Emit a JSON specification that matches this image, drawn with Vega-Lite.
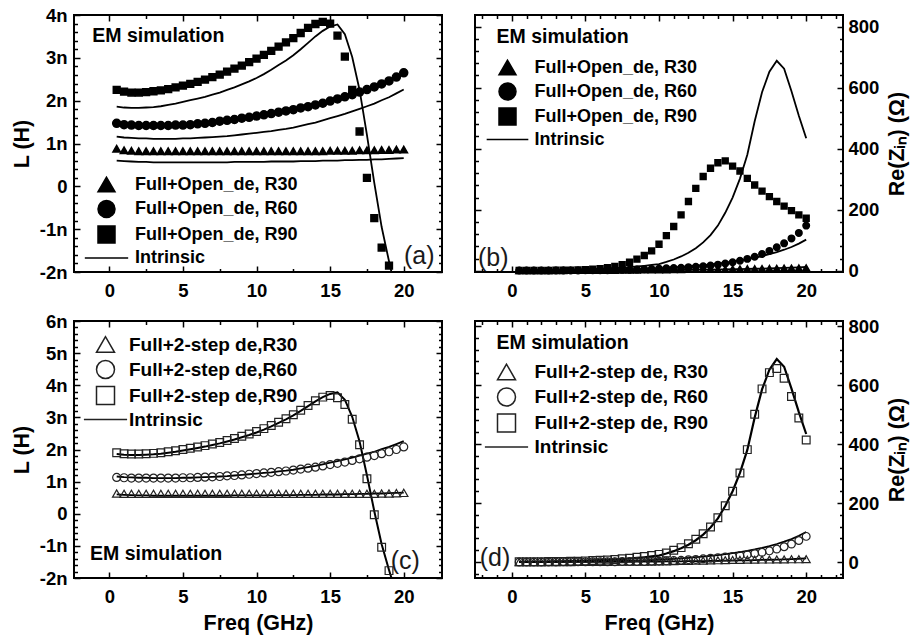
{
  "$schema": "https://vega.github.io/schema/vega-lite/v6.json",
  "background": "white",
  "padding": {"left": 10, "top": 5, "right": 2, "bottom": 2},
  "config": {
    "font": "Liberation Sans",
    "view": {"stroke": "black", "strokeWidth": 2},
    "axis": {"grid": false, "domain": false, "labelFont": "Liberation Sans", "labelFontWeight": "bold", "labelFontSize": 18.5, "labelColor": "black", "labelFlush": false, "labelOverlap": false, "labelBound": false, "titleFont": "Liberation Sans", "titleFontWeight": "bold", "titleFontSize": 21.5, "titleColor": "black", "tickColor": "black", "tickWidth": 1.5},
    "legend": {"labelFont": "Liberation Sans", "labelFontWeight": "bold", "labelColor": "black", "padding": 0, "labelLimit": 400},
    "text": {"font": "Liberation Sans"}
  },
  "datasets": {
    "L30": [{"f":0.5,"v":0.60},{"f":1,"v":0.59},{"f":1.5,"v":0.58},{"f":2,"v":0.57},{"f":2.5,"v":0.57},{"f":3,"v":0.56},{"f":3.5,"v":0.56},{"f":4,"v":0.56},{"f":4.5,"v":0.56},{"f":5,"v":0.56},{"f":5.5,"v":0.56},{"f":6,"v":0.56},{"f":6.5,"v":0.56},{"f":7,"v":0.56},{"f":7.5,"v":0.56},{"f":8,"v":0.56},{"f":8.5,"v":0.57},{"f":9,"v":0.57},{"f":9.5,"v":0.57},{"f":10,"v":0.57},{"f":10.5,"v":0.57},{"f":11,"v":0.58},{"f":11.5,"v":0.58},{"f":12,"v":0.58},{"f":12.5,"v":0.58},{"f":13,"v":0.59},{"f":13.5,"v":0.59},{"f":14,"v":0.59},{"f":14.5,"v":0.60},{"f":15,"v":0.60},{"f":15.5,"v":0.60},{"f":16,"v":0.61},{"f":16.5,"v":0.61},{"f":17,"v":0.62},{"f":17.5,"v":0.62},{"f":18,"v":0.63},{"f":18.5,"v":0.63},{"f":19,"v":0.64},{"f":19.5,"v":0.65},{"f":20,"v":0.66}],
    "L60": [{"f":0.5,"v":1.16},{"f":1,"v":1.14},{"f":1.5,"v":1.13},{"f":2,"v":1.12},{"f":2.5,"v":1.12},{"f":3,"v":1.11},{"f":3.5,"v":1.11},{"f":4,"v":1.11},{"f":4.5,"v":1.11},{"f":5,"v":1.12},{"f":5.5,"v":1.12},{"f":6,"v":1.13},{"f":6.5,"v":1.14},{"f":7,"v":1.15},{"f":7.5,"v":1.16},{"f":8,"v":1.17},{"f":8.5,"v":1.19},{"f":9,"v":1.21},{"f":9.5,"v":1.23},{"f":10,"v":1.25},{"f":10.5,"v":1.27},{"f":11,"v":1.29},{"f":11.5,"v":1.32},{"f":12,"v":1.34},{"f":12.5,"v":1.37},{"f":13,"v":1.41},{"f":13.5,"v":1.45},{"f":14,"v":1.49},{"f":14.5,"v":1.54},{"f":15,"v":1.59},{"f":15.5,"v":1.64},{"f":16,"v":1.69},{"f":16.5,"v":1.75},{"f":17,"v":1.81},{"f":17.5,"v":1.87},{"f":18,"v":1.93},{"f":18.5,"v":2.01},{"f":19,"v":2.08},{"f":19.5,"v":2.17},{"f":20,"v":2.26}],
    "L90": [{"f":0.5,"v":1.86},{"f":1,"v":1.84},{"f":1.5,"v":1.83},{"f":2,"v":1.83},{"f":2.5,"v":1.84},{"f":3,"v":1.85},{"f":3.5,"v":1.87},{"f":4,"v":1.90},{"f":4.5,"v":1.93},{"f":5,"v":1.97},{"f":5.5,"v":2.01},{"f":6,"v":2.05},{"f":6.5,"v":2.09},{"f":7,"v":2.14},{"f":7.5,"v":2.19},{"f":8,"v":2.25},{"f":8.5,"v":2.31},{"f":9,"v":2.38},{"f":9.5,"v":2.45},{"f":10,"v":2.53},{"f":10.5,"v":2.62},{"f":11,"v":2.72},{"f":11.5,"v":2.83},{"f":12,"v":2.94},{"f":12.5,"v":3.06},{"f":13,"v":3.20},{"f":13.5,"v":3.35},{"f":14,"v":3.50},{"f":14.5,"v":3.63},{"f":15,"v":3.73},{"f":15.5,"v":3.78},{"f":16,"v":3.55},{"f":16.5,"v":3.02},{"f":17,"v":2.25},{"f":17.5,"v":1.20},{"f":18,"v":0.08},{"f":18.5,"v":-0.95},{"f":19,"v":-1.75},{"f":19.5,"v":-2.5}],
    "a30": [{"f":0.5,"v":0.88},{"f":1,"v":0.84},{"f":1.5,"v":0.83},{"f":2,"v":0.82},{"f":2.5,"v":0.82},{"f":3,"v":0.82},{"f":3.5,"v":0.82},{"f":4,"v":0.82},{"f":4.5,"v":0.82},{"f":5,"v":0.82},{"f":5.5,"v":0.82},{"f":6,"v":0.82},{"f":6.5,"v":0.82},{"f":7,"v":0.82},{"f":7.5,"v":0.82},{"f":8,"v":0.82},{"f":8.5,"v":0.82},{"f":9,"v":0.82},{"f":9.5,"v":0.82},{"f":10,"v":0.82},{"f":10.5,"v":0.82},{"f":11,"v":0.82},{"f":11.5,"v":0.82},{"f":12,"v":0.82},{"f":12.5,"v":0.82},{"f":13,"v":0.82},{"f":13.5,"v":0.82},{"f":14,"v":0.82},{"f":14.5,"v":0.82},{"f":15,"v":0.83},{"f":15.5,"v":0.83},{"f":16,"v":0.83},{"f":16.5,"v":0.83},{"f":17,"v":0.84},{"f":17.5,"v":0.84},{"f":18,"v":0.84},{"f":18.5,"v":0.85},{"f":19,"v":0.85},{"f":19.5,"v":0.86},{"f":20,"v":0.86}],
    "a60": [{"f":0.5,"v":1.47},{"f":1,"v":1.44},{"f":1.5,"v":1.43},{"f":2,"v":1.42},{"f":2.5,"v":1.42},{"f":3,"v":1.42},{"f":3.5,"v":1.42},{"f":4,"v":1.42},{"f":4.5,"v":1.43},{"f":5,"v":1.43},{"f":5.5,"v":1.44},{"f":6,"v":1.46},{"f":6.5,"v":1.47},{"f":7,"v":1.49},{"f":7.5,"v":1.52},{"f":8,"v":1.54},{"f":8.5,"v":1.56},{"f":9,"v":1.59},{"f":9.5,"v":1.61},{"f":10,"v":1.64},{"f":10.5,"v":1.67},{"f":11,"v":1.70},{"f":11.5,"v":1.73},{"f":12,"v":1.76},{"f":12.5,"v":1.79},{"f":13,"v":1.83},{"f":13.5,"v":1.86},{"f":14,"v":1.90},{"f":14.5,"v":1.94},{"f":15,"v":1.99},{"f":15.5,"v":2.04},{"f":16,"v":2.09},{"f":16.5,"v":2.14},{"f":17,"v":2.20},{"f":17.5,"v":2.26},{"f":18,"v":2.32},{"f":18.5,"v":2.39},{"f":19,"v":2.46},{"f":19.5,"v":2.55},{"f":20,"v":2.65}],
    "a90": [{"f":0.5,"v":2.25},{"f":1,"v":2.21},{"f":1.5,"v":2.19},{"f":2,"v":2.19},{"f":2.5,"v":2.20},{"f":3,"v":2.22},{"f":3.5,"v":2.24},{"f":4,"v":2.27},{"f":4.5,"v":2.31},{"f":5,"v":2.35},{"f":5.5,"v":2.39},{"f":6,"v":2.44},{"f":6.5,"v":2.49},{"f":7,"v":2.55},{"f":7.5,"v":2.61},{"f":8,"v":2.68},{"f":8.5,"v":2.75},{"f":9,"v":2.82},{"f":9.5,"v":2.90},{"f":10,"v":2.98},{"f":10.5,"v":3.07},{"f":11,"v":3.16},{"f":11.5,"v":3.26},{"f":12,"v":3.36},{"f":12.5,"v":3.46},{"f":13,"v":3.58},{"f":13.5,"v":3.70},{"f":14,"v":3.79},{"f":14.5,"v":3.84},{"f":15,"v":3.80},{"f":15.5,"v":3.52},{"f":16,"v":3.03},{"f":16.5,"v":2.25},{"f":17,"v":1.28},{"f":17.5,"v":0.20},{"f":18,"v":-0.74},{"f":18.5,"v":-1.43},{"f":19,"v":-1.85}],
    "c30": [{"f":0.5,"v":0.63},{"f":1,"v":0.62},{"f":1.5,"v":0.62},{"f":2,"v":0.62},{"f":2.5,"v":0.62},{"f":3,"v":0.62},{"f":3.5,"v":0.62},{"f":4,"v":0.62},{"f":4.5,"v":0.62},{"f":5,"v":0.62},{"f":5.5,"v":0.62},{"f":6,"v":0.62},{"f":6.5,"v":0.62},{"f":7,"v":0.62},{"f":7.5,"v":0.62},{"f":8,"v":0.62},{"f":8.5,"v":0.62},{"f":9,"v":0.62},{"f":9.5,"v":0.62},{"f":10,"v":0.62},{"f":10.5,"v":0.62},{"f":11,"v":0.62},{"f":11.5,"v":0.62},{"f":12,"v":0.62},{"f":12.5,"v":0.62},{"f":13,"v":0.62},{"f":13.5,"v":0.62},{"f":14,"v":0.62},{"f":14.5,"v":0.62},{"f":15,"v":0.62},{"f":15.5,"v":0.62},{"f":16,"v":0.62},{"f":16.5,"v":0.62},{"f":17,"v":0.62},{"f":17.5,"v":0.62},{"f":18,"v":0.62},{"f":18.5,"v":0.63},{"f":19,"v":0.63},{"f":19.5,"v":0.64},{"f":20,"v":0.65}],
    "c60": [{"f":0.5,"v":1.13},{"f":1,"v":1.12},{"f":1.5,"v":1.11},{"f":2,"v":1.11},{"f":2.5,"v":1.11},{"f":3,"v":1.11},{"f":3.5,"v":1.11},{"f":4,"v":1.11},{"f":4.5,"v":1.11},{"f":5,"v":1.12},{"f":5.5,"v":1.12},{"f":6,"v":1.13},{"f":6.5,"v":1.14},{"f":7,"v":1.15},{"f":7.5,"v":1.16},{"f":8,"v":1.18},{"f":8.5,"v":1.19},{"f":9,"v":1.21},{"f":9.5,"v":1.23},{"f":10,"v":1.25},{"f":10.5,"v":1.27},{"f":11,"v":1.29},{"f":11.5,"v":1.31},{"f":12,"v":1.33},{"f":12.5,"v":1.36},{"f":13,"v":1.39},{"f":13.5,"v":1.42},{"f":14,"v":1.45},{"f":14.5,"v":1.49},{"f":15,"v":1.53},{"f":15.5,"v":1.57},{"f":16,"v":1.61},{"f":16.5,"v":1.66},{"f":17,"v":1.71},{"f":17.5,"v":1.76},{"f":18,"v":1.81},{"f":18.5,"v":1.87},{"f":19,"v":1.93},{"f":19.5,"v":2.00},{"f":20,"v":2.08}],
    "c90": [{"f":0.5,"v":1.90},{"f":1,"v":1.87},{"f":1.5,"v":1.86},{"f":2,"v":1.86},{"f":2.5,"v":1.87},{"f":3,"v":1.88},{"f":3.5,"v":1.90},{"f":4,"v":1.93},{"f":4.5,"v":1.96},{"f":5,"v":2.00},{"f":5.5,"v":2.04},{"f":6,"v":2.08},{"f":6.5,"v":2.12},{"f":7,"v":2.17},{"f":7.5,"v":2.22},{"f":8,"v":2.28},{"f":8.5,"v":2.34},{"f":9,"v":2.41},{"f":9.5,"v":2.48},{"f":10,"v":2.56},{"f":10.5,"v":2.65},{"f":11,"v":2.75},{"f":11.5,"v":2.85},{"f":12,"v":2.96},{"f":12.5,"v":3.08},{"f":13,"v":3.22},{"f":13.5,"v":3.37},{"f":14,"v":3.52},{"f":14.5,"v":3.63},{"f":15,"v":3.68},{"f":15.5,"v":3.61},{"f":16,"v":3.40},{"f":16.5,"v":2.94},{"f":17,"v":2.15},{"f":17.5,"v":1.09},{"f":18,"v":-0.03},{"f":18.5,"v":-1.04},{"f":19,"v":-1.77}],
    "Z30": [{"f":0.5,"v":0.2},{"f":1,"v":0.3},{"f":1.5,"v":0.3},{"f":2,"v":0.4},{"f":2.5,"v":0.4},{"f":3,"v":0.5},{"f":3.5,"v":0.5},{"f":4,"v":0.6},{"f":4.5,"v":0.6},{"f":5,"v":0.7},{"f":5.5,"v":0.8},{"f":6,"v":0.9},{"f":6.5,"v":1.0},{"f":7,"v":1.1},{"f":7.5,"v":1.2},{"f":8,"v":1.3},{"f":8.5,"v":1.5},{"f":9,"v":1.6},{"f":9.5,"v":1.8},{"f":10,"v":2.0},{"f":10.5,"v":2.2},{"f":11,"v":2.4},{"f":11.5,"v":2.6},{"f":12,"v":2.9},{"f":12.5,"v":3.2},{"f":13,"v":3.5},{"f":13.5,"v":3.8},{"f":14,"v":4.2},{"f":14.5,"v":4.6},{"f":15,"v":5.0},{"f":15.5,"v":5.5},{"f":16,"v":6.0},{"f":16.5,"v":6.6},{"f":17,"v":7.2},{"f":17.5,"v":7.9},{"f":18,"v":8.6},{"f":18.5,"v":9.4},{"f":19,"v":10.3},{"f":19.5,"v":11.3},{"f":20,"v":12.4}],
    "Z60": [{"f":0.5,"v":0.5},{"f":1,"v":0.6},{"f":1.5,"v":0.7},{"f":2,"v":0.8},{"f":2.5,"v":1.0},{"f":3,"v":1.1},{"f":3.5,"v":1.3},{"f":4,"v":1.5},{"f":4.5,"v":1.7},{"f":5,"v":2.0},{"f":5.5,"v":2.3},{"f":6,"v":2.6},{"f":6.5,"v":3.0},{"f":7,"v":3.4},{"f":7.5,"v":3.9},{"f":8,"v":4.4},{"f":8.5,"v":5.0},{"f":9,"v":5.8},{"f":9.5,"v":6.8},{"f":10,"v":8.0},{"f":10.5,"v":9.5},{"f":11,"v":11.0},{"f":11.5,"v":12.7},{"f":12,"v":14.5},{"f":12.5,"v":16.5},{"f":13,"v":18.7},{"f":13.5,"v":21.0},{"f":14,"v":23.7},{"f":14.5,"v":26.7},{"f":15,"v":30.0},{"f":15.5,"v":33.8},{"f":16,"v":38.0},{"f":16.5,"v":42.7},{"f":17,"v":48.0},{"f":17.5,"v":54.2},{"f":18,"v":61.2},{"f":18.5,"v":69.0},{"f":19,"v":78.0},{"f":19.5,"v":89.0},{"f":20,"v":102.0}],
    "Z90": [{"f":0.5,"v":1.0},{"f":1,"v":1.2},{"f":1.5,"v":1.4},{"f":2,"v":1.7},{"f":2.5,"v":2.0},{"f":3,"v":2.4},{"f":3.5,"v":2.8},{"f":4,"v":3.3},{"f":4.5,"v":3.9},{"f":5,"v":4.6},{"f":5.5,"v":5.4},{"f":6,"v":6.3},{"f":6.5,"v":7.4},{"f":7,"v":8.7},{"f":7.5,"v":10.2},{"f":8,"v":12},{"f":8.5,"v":14},{"f":9,"v":16.4},{"f":9.5,"v":19},{"f":10,"v":22},{"f":10.5,"v":29},{"f":11,"v":37},{"f":11.5,"v":47},{"f":12,"v":59},{"f":12.5,"v":74},{"f":13,"v":93},{"f":13.5,"v":117},{"f":14,"v":148},{"f":14.5,"v":190},{"f":15,"v":240},{"f":15.5,"v":302},{"f":16,"v":380},{"f":16.5,"v":490},{"f":17,"v":585},{"f":17.5,"v":652},{"f":18,"v":688},{"f":18.5,"v":662},{"f":19,"v":588},{"f":19.5,"v":508},{"f":20,"v":434}],
    "b30": [{"f":0.5,"v":0},{"f":1,"v":0},{"f":1.5,"v":0},{"f":2,"v":0},{"f":2.5,"v":0.5},{"f":3,"v":0.5},{"f":3.5,"v":0.5},{"f":4,"v":1},{"f":4.5,"v":1},{"f":5,"v":1},{"f":5.5,"v":1},{"f":6,"v":1.5},{"f":6.5,"v":1.5},{"f":7,"v":1.5},{"f":7.5,"v":2},{"f":8,"v":2},{"f":8.5,"v":2},{"f":9,"v":2.5},{"f":9.5,"v":2.5},{"f":10,"v":3},{"f":10.5,"v":3},{"f":11,"v":3.5},{"f":11.5,"v":3.5},{"f":12,"v":4},{"f":12.5,"v":4},{"f":13,"v":4.5},{"f":13.5,"v":5},{"f":14,"v":5},{"f":14.5,"v":5.5},{"f":15,"v":6},{"f":15.5,"v":6.5},{"f":16,"v":7},{"f":16.5,"v":7},{"f":17,"v":7.5},{"f":17.5,"v":8},{"f":18,"v":8.5},{"f":18.5,"v":9},{"f":19,"v":9},{"f":19.5,"v":9.5},{"f":20,"v":10}],
    "b60": [{"f":0.5,"v":1},{"f":1,"v":1},{"f":1.5,"v":1},{"f":2,"v":1},{"f":2.5,"v":1},{"f":3,"v":1},{"f":3.5,"v":1},{"f":4,"v":1},{"f":4.5,"v":1},{"f":5,"v":2},{"f":5.5,"v":2},{"f":6,"v":2},{"f":6.5,"v":2},{"f":7,"v":3},{"f":7.5,"v":3},{"f":8,"v":3},{"f":8.5,"v":4},{"f":9,"v":5},{"f":9.5,"v":6},{"f":10,"v":7},{"f":10.5,"v":8},{"f":11,"v":9},{"f":11.5,"v":10},{"f":12,"v":12},{"f":12.5,"v":13},{"f":13,"v":15},{"f":13.5,"v":17},{"f":14,"v":20},{"f":14.5,"v":24},{"f":15,"v":28},{"f":15.5,"v":33},{"f":16,"v":39},{"f":16.5,"v":46},{"f":17,"v":55},{"f":17.5,"v":65},{"f":18,"v":77},{"f":18.5,"v":90},{"f":19,"v":106},{"f":19.5,"v":124},{"f":20,"v":148}],
    "b90": [{"f":0.5,"v":1},{"f":1,"v":1},{"f":1.5,"v":1},{"f":2,"v":1},{"f":2.5,"v":1},{"f":3,"v":2},{"f":3.5,"v":2},{"f":4,"v":2},{"f":4.5,"v":3},{"f":5,"v":4},{"f":5.5,"v":5},{"f":6,"v":7},{"f":6.5,"v":10},{"f":7,"v":14},{"f":7.5,"v":20},{"f":8,"v":28},{"f":8.5,"v":38},{"f":9,"v":50},{"f":9.5,"v":65},{"f":10,"v":87},{"f":10.5,"v":115},{"f":11,"v":145},{"f":11.5,"v":183},{"f":12,"v":227},{"f":12.5,"v":270},{"f":13,"v":309},{"f":13.5,"v":336},{"f":14,"v":354},{"f":14.5,"v":360},{"f":15,"v":343},{"f":15.5,"v":327},{"f":16,"v":303},{"f":16.5,"v":281},{"f":17,"v":261},{"f":17.5,"v":243},{"f":18,"v":227},{"f":18.5,"v":212},{"f":19,"v":197},{"f":19.5,"v":183},{"f":20,"v":172}],
    "d30": [{"f":0.5,"v":0},{"f":1,"v":0},{"f":1.5,"v":0},{"f":2,"v":0},{"f":2.5,"v":0},{"f":3,"v":0},{"f":3.5,"v":0},{"f":4,"v":0},{"f":4.5,"v":0.5},{"f":5,"v":0.5},{"f":5.5,"v":0.5},{"f":6,"v":0.5},{"f":6.5,"v":0.5},{"f":7,"v":1},{"f":7.5,"v":1},{"f":8,"v":1},{"f":8.5,"v":1},{"f":9,"v":1},{"f":9.5,"v":1.5},{"f":10,"v":2},{"f":10.5,"v":2.5},{"f":11,"v":3},{"f":11.5,"v":3.5},{"f":12,"v":4},{"f":12.5,"v":4.5},{"f":13,"v":5},{"f":13.5,"v":5.5},{"f":14,"v":6},{"f":14.5,"v":6.5},{"f":15,"v":7},{"f":15.5,"v":7.5},{"f":16,"v":8},{"f":16.5,"v":8},{"f":17,"v":8.5},{"f":17.5,"v":8.5},{"f":18,"v":9},{"f":18.5,"v":9},{"f":19,"v":9.5},{"f":19.5,"v":9.5},{"f":20,"v":10}],
    "d60": [{"f":0.5,"v":0},{"f":1,"v":0},{"f":1.5,"v":0},{"f":2,"v":0},{"f":2.5,"v":0},{"f":3,"v":0},{"f":3.5,"v":1},{"f":4,"v":1},{"f":4.5,"v":1},{"f":5,"v":1},{"f":5.5,"v":1},{"f":6,"v":1},{"f":6.5,"v":1},{"f":7,"v":1},{"f":7.5,"v":2},{"f":8,"v":2},{"f":8.5,"v":2},{"f":9,"v":2},{"f":9.5,"v":3},{"f":10,"v":3},{"f":10.5,"v":4},{"f":11,"v":5},{"f":11.5,"v":6},{"f":12,"v":8},{"f":12.5,"v":9},{"f":13,"v":11},{"f":13.5,"v":13},{"f":14,"v":15},{"f":14.5,"v":17},{"f":15,"v":19},{"f":15.5,"v":22},{"f":16,"v":25},{"f":16.5,"v":29},{"f":17,"v":33},{"f":17.5,"v":38},{"f":18,"v":44},{"f":18.5,"v":52},{"f":19,"v":61},{"f":19.5,"v":73},{"f":20,"v":87}],
    "d90": [{"f":0.5,"v":1},{"f":1,"v":1},{"f":1.5,"v":1},{"f":2,"v":1},{"f":2.5,"v":2},{"f":3,"v":2},{"f":3.5,"v":2},{"f":4,"v":3},{"f":4.5,"v":3},{"f":5,"v":4},{"f":5.5,"v":5},{"f":6,"v":6},{"f":6.5,"v":7},{"f":7,"v":9},{"f":7.5,"v":11},{"f":8,"v":13},{"f":8.5,"v":16},{"f":9,"v":19},{"f":9.5,"v":22},{"f":10,"v":26},{"f":10.5,"v":31},{"f":11,"v":40},{"f":11.5,"v":49},{"f":12,"v":62},{"f":12.5,"v":77},{"f":13,"v":96},{"f":13.5,"v":119},{"f":14,"v":150},{"f":14.5,"v":191},{"f":15,"v":240},{"f":15.5,"v":302},{"f":16,"v":381},{"f":16.5,"v":501},{"f":17,"v":587},{"f":17.5,"v":642},{"f":18,"v":656},{"f":18.5,"v":623},{"f":19,"v":561},{"f":19.5,"v":488},{"f":20,"v":414}]
  },
  "resolve": {"scale": {"x": "independent", "y": "independent", "shape": "independent"}, "legend": {"shape": "independent"}, "axis": {"x": "independent", "y": "independent"}},
  "spacing": 10,
  "vconcat": [
    {
      "spacing": 29,
      "resolve": {"scale": {"x": "independent", "y": "independent", "shape": "independent"}, "legend": {"shape": "independent"}, "axis": {"x": "independent", "y": "independent"}},
      "hconcat": [
        {
          "width": 368, "height": 257,
          "resolve": {"axis": {"x": "independent", "y": "independent"}},
          "layer": [
            {"data": {"name": "L30"}, "mark": {"type": "line", "color": "black", "strokeWidth": 1.8, "clip": true},
             "encoding": {
               "x": {"field": "f", "type": "quantitative", "scale": {"domain": [-2.4, 22.6], "nice": false, "zero": false}, "axis": {"orient": "bottom", "values": [0, 5, 10, 15, 20], "ticks": false, "labelPadding": 9, "title": null}},
               "y": {"field": "v", "type": "quantitative", "scale": {"domain": [-2, 4], "nice": false, "zero": false}, "axis": {"orient": "left", "values": [-2, -1, 0, 1, 2, 3, 4], "ticks": false, "labelPadding": 7, "labelExpr": "datum.value == 0 ? '0' : datum.value + 'n'", "title": "L (H)", "titlePadding": 6}}}},
            {"data": {"name": "L60"}, "mark": {"type": "line", "color": "black", "strokeWidth": 1.8, "clip": true},
             "encoding": {
               "x": {"field": "f", "type": "quantitative", "scale": {"domain": [-2.4, 22.6], "nice": false, "zero": false}, "axis": {"orient": "bottom", "values": [0, 5, 10, 15, 20], "labels": false, "tickSize": -6, "title": null}},
               "y": {"field": "v", "type": "quantitative", "scale": {"domain": [-2, 4], "nice": false, "zero": false}, "axis": {"orient": "left", "values": [-2, -1, 0, 1, 2, 3, 4], "labels": false, "tickSize": -6, "title": null}}}},
            {"data": {"name": "L90"}, "mark": {"type": "line", "color": "black", "strokeWidth": 1.8, "clip": true},
             "encoding": {
               "x": {"field": "f", "type": "quantitative", "scale": {"domain": [-2.4, 22.6], "nice": false, "zero": false}, "axis": {"orient": "bottom", "values": [2.5, 7.5, 12.5, 17.5], "labels": false, "tickSize": -3.5, "title": null}},
               "y": {"field": "v", "type": "quantitative", "scale": {"domain": [-2, 4], "nice": false, "zero": false}, "axis": {"orient": "left", "values": [-1.8, -1.6, -1.4, -1.2, -0.8, -0.6, -0.4, -0.2, 0.2, 0.4, 0.6, 0.8, 1.2, 1.4, 1.6, 1.8, 2.2, 2.4, 2.6, 2.8, 3.2, 3.4, 3.6, 3.8], "labels": false, "tickSize": -3.5, "title": null}}}},
            {"data": {"name": "a30"}, "mark": {"type": "point", "filled": true, "fill": "black", "stroke": "black", "strokeWidth": 1.5, "size": 56, "opacity": 1},
             "encoding": {
               "x": {"field": "f", "type": "quantitative", "scale": {"domain": [-2.4, 22.6], "nice": false, "zero": false}, "axis": {"orient": "top", "values": [0, 5, 10, 15, 20], "labels": false, "tickSize": -6, "title": null}},
               "y": {"field": "v", "type": "quantitative", "scale": {"domain": [-2, 4], "nice": false, "zero": false}, "axis": {"orient": "right", "values": [-2, -1, 0, 1, 2, 3, 4], "labels": false, "tickSize": -6, "title": null}},
               "shape": {"datum": "Full+Open_de, R30", "type": "nominal", "scale": {"domain": ["Full+Open_de, R30", "Full+Open_de, R60", "Full+Open_de, R90", "Intrinsic"], "range": ["triangle-up", "circle", "square", "M-2.55,0L2.55,0"]},
                         "legend": {"title": null, "orient": "none", "legendX": 23, "legendY": 160, "rowPadding": 2.5, "labelOffset": 19, "labelFontSize": 18, "symbolSize": 289}}}},
            {"data": {"name": "a60"}, "mark": {"type": "point", "filled": true, "fill": "black", "stroke": "black", "strokeWidth": 1.5, "size": 64, "opacity": 1},
             "encoding": {
               "x": {"field": "f", "type": "quantitative", "scale": {"domain": [-2.4, 22.6], "nice": false, "zero": false}, "axis": {"orient": "top", "values": [2.5, 7.5, 12.5, 17.5], "labels": false, "tickSize": -3.5, "title": null}},
               "y": {"field": "v", "type": "quantitative", "scale": {"domain": [-2, 4], "nice": false, "zero": false}, "axis": {"orient": "right", "values": [-1.8, -1.6, -1.4, -1.2, -0.8, -0.6, -0.4, -0.2, 0.2, 0.4, 0.6, 0.8, 1.2, 1.4, 1.6, 1.8, 2.2, 2.4, 2.6, 2.8, 3.2, 3.4, 3.6, 3.8], "labels": false, "tickSize": -3.5, "title": null}},
               "shape": {"datum": "Full+Open_de, R60", "type": "nominal", "scale": {"domain": ["Full+Open_de, R30", "Full+Open_de, R60", "Full+Open_de, R90", "Intrinsic"], "range": ["triangle-up", "circle", "square", "M-2.55,0L2.55,0"]},
                         "legend": {"title": null, "orient": "none", "legendX": 23, "legendY": 160, "rowPadding": 2.5, "labelOffset": 19, "labelFontSize": 18, "symbolSize": 289}}}},
            {"data": {"name": "a90"}, "mark": {"type": "point", "filled": true, "fill": "black", "stroke": "black", "strokeWidth": 1.5, "size": 46, "opacity": 1},
             "encoding": {
               "x": {"field": "f", "type": "quantitative", "scale": {"domain": [-2.4, 22.6], "nice": false, "zero": false}, "axis": null},
               "y": {"field": "v", "type": "quantitative", "scale": {"domain": [-2, 4], "nice": false, "zero": false}, "axis": null},
               "shape": {"datum": "Full+Open_de, R90", "type": "nominal", "scale": {"domain": ["Full+Open_de, R30", "Full+Open_de, R60", "Full+Open_de, R90", "Intrinsic"], "range": ["triangle-up", "circle", "square", "M-2.55,0L2.55,0"]},
                         "legend": {"title": null, "orient": "none", "legendX": 23, "legendY": 160, "rowPadding": 2.5, "labelOffset": 19, "labelFontSize": 18, "symbolSize": 289}}}},
            {"data": {"values": [{"f": -1.16, "v": 3.37, "t": "EM simulation"}]}, "mark": {"type": "text", "align": "left", "baseline": "alphabetic", "fontSize": 19.5, "fontWeight": "bold", "color": "black"},
             "encoding": {
               "x": {"field": "f", "type": "quantitative", "scale": {"domain": [-2.4, 22.6], "nice": false, "zero": false}, "axis": null},
               "y": {"field": "v", "type": "quantitative", "scale": {"domain": [-2, 4], "nice": false, "zero": false}, "axis": null},
               "text": {"field": "t"}}},
            {"data": {"values": [{"f": 20.02, "v": -1.82, "t": "(a)"}]}, "mark": {"type": "text", "align": "left", "baseline": "alphabetic", "fontSize": 25, "color": "#1a1a1a"},
             "encoding": {
               "x": {"field": "f", "type": "quantitative", "scale": {"domain": [-2.4, 22.6], "nice": false, "zero": false}, "axis": null},
               "y": {"field": "v", "type": "quantitative", "scale": {"domain": [-2, 4], "nice": false, "zero": false}, "axis": null},
               "text": {"field": "t"}}}
          ]
        },
        {
          "width": 368, "height": 257,
          "resolve": {"axis": {"x": "independent", "y": "independent"}},
          "layer": [
            {"data": {"name": "Z30"}, "mark": {"type": "line", "color": "black", "strokeWidth": 1.8, "clip": true},
             "encoding": {
               "x": {"field": "f", "type": "quantitative", "scale": {"domain": [-2.5, 22.5], "nice": false, "zero": false}, "axis": {"orient": "bottom", "values": [0, 5, 10, 15, 20], "ticks": false, "labelPadding": 9, "title": null}},
               "y": {"field": "v", "type": "quantitative", "scale": {"domain": [-4, 838], "nice": false, "zero": false}, "axis": {"orient": "right", "values": [0, 200, 400, 600, 800], "ticks": false, "labelPadding": 5, "title": "Re(Zᵢₙ) (Ω)", "titleAngle": -90, "titleBaseline": "top", "titlePadding": 8}}}},
            {"data": {"name": "Z60"}, "mark": {"type": "line", "color": "black", "strokeWidth": 1.8, "clip": true},
             "encoding": {
               "x": {"field": "f", "type": "quantitative", "scale": {"domain": [-2.5, 22.5], "nice": false, "zero": false}, "axis": {"orient": "bottom", "values": [0, 5, 10, 15, 20], "labels": false, "tickSize": -6, "title": null}},
               "y": {"field": "v", "type": "quantitative", "scale": {"domain": [-4, 838], "nice": false, "zero": false}, "axis": {"orient": "right", "values": [0, 200, 400, 600, 800], "labels": false, "tickSize": -6, "title": null}}}},
            {"data": {"name": "Z90"}, "mark": {"type": "line", "color": "black", "strokeWidth": 1.8, "clip": true},
             "encoding": {
               "x": {"field": "f", "type": "quantitative", "scale": {"domain": [-2.5, 22.5], "nice": false, "zero": false}, "axis": {"orient": "bottom", "values": [-2, -1, 1, 2, 3, 4, 6, 7, 8, 9, 11, 12, 13, 14, 16, 17, 18, 19, 21, 22], "labels": false, "tickSize": -3.5, "title": null}},
               "y": {"field": "v", "type": "quantitative", "scale": {"domain": [-4, 838], "nice": false, "zero": false}, "axis": {"orient": "right", "values": [40, 80, 120, 160, 240, 280, 320, 360, 440, 480, 520, 560, 640, 680, 720, 760], "labels": false, "tickSize": -3.5, "title": null}}}},
            {"data": {"name": "b30"}, "mark": {"type": "point", "filled": true, "fill": "black", "stroke": "black", "strokeWidth": 1.5, "size": 42, "opacity": 1},
             "encoding": {
               "x": {"field": "f", "type": "quantitative", "scale": {"domain": [-2.5, 22.5], "nice": false, "zero": false}, "axis": {"orient": "top", "values": [0, 5, 10, 15, 20], "labels": false, "tickSize": -6, "title": null}},
               "y": {"field": "v", "type": "quantitative", "scale": {"domain": [-4, 838], "nice": false, "zero": false}, "axis": {"orient": "left", "values": [0, 200, 400, 600, 800], "labels": false, "tickSize": -6, "title": null}},
               "shape": {"datum": "Full+Open_de, R30", "type": "nominal", "scale": {"domain": ["Full+Open_de, R30", "Full+Open_de, R60", "Full+Open_de, R90", "Intrinsic"], "range": ["triangle-up", "circle", "square", "M-2.45,0L2.45,0"]},
                         "legend": {"title": null, "orient": "none", "legendX": 23, "legendY": 43, "rowPadding": 2, "labelOffset": 17.5, "labelFontSize": 18, "symbolSize": 289}}}},
            {"data": {"name": "b60"}, "mark": {"type": "point", "filled": true, "fill": "black", "stroke": "black", "strokeWidth": 1.5, "size": 42, "opacity": 1},
             "encoding": {
               "x": {"field": "f", "type": "quantitative", "scale": {"domain": [-2.5, 22.5], "nice": false, "zero": false}, "axis": {"orient": "top", "values": [-2, -1, 1, 2, 3, 4, 6, 7, 8, 9, 11, 12, 13, 14, 16, 17, 18, 19, 21, 22], "labels": false, "tickSize": -3.5, "title": null}},
               "y": {"field": "v", "type": "quantitative", "scale": {"domain": [-4, 838], "nice": false, "zero": false}, "axis": {"orient": "left", "values": [40, 80, 120, 160, 240, 280, 320, 360, 440, 480, 520, 560, 640, 680, 720, 760], "labels": false, "tickSize": -3.5, "title": null}},
               "shape": {"datum": "Full+Open_de, R60", "type": "nominal", "scale": {"domain": ["Full+Open_de, R30", "Full+Open_de, R60", "Full+Open_de, R90", "Intrinsic"], "range": ["triangle-up", "circle", "square", "M-2.45,0L2.45,0"]},
                         "legend": {"title": null, "orient": "none", "legendX": 23, "legendY": 43, "rowPadding": 2, "labelOffset": 17.5, "labelFontSize": 18, "symbolSize": 289}}}},
            {"data": {"name": "b90"}, "mark": {"type": "point", "filled": true, "fill": "black", "stroke": "black", "strokeWidth": 1.5, "size": 34, "opacity": 1},
             "encoding": {
               "x": {"field": "f", "type": "quantitative", "scale": {"domain": [-2.5, 22.5], "nice": false, "zero": false}, "axis": null},
               "y": {"field": "v", "type": "quantitative", "scale": {"domain": [-4, 838], "nice": false, "zero": false}, "axis": null},
               "shape": {"datum": "Full+Open_de, R90", "type": "nominal", "scale": {"domain": ["Full+Open_de, R30", "Full+Open_de, R60", "Full+Open_de, R90", "Intrinsic"], "range": ["triangle-up", "circle", "square", "M-2.45,0L2.45,0"]},
                         "legend": {"title": null, "orient": "none", "legendX": 23, "legendY": 43, "rowPadding": 2, "labelOffset": 17.5, "labelFontSize": 18, "symbolSize": 289}}}},
            {"data": {"values": [{"f": -1.04, "v": 746, "t": "EM simulation"}]}, "mark": {"type": "text", "align": "left", "baseline": "alphabetic", "fontSize": 19.5, "fontWeight": "bold", "color": "black"},
             "encoding": {
               "x": {"field": "f", "type": "quantitative", "scale": {"domain": [-2.5, 22.5], "nice": false, "zero": false}, "axis": null},
               "y": {"field": "v", "type": "quantitative", "scale": {"domain": [-4, 838], "nice": false, "zero": false}, "axis": null},
               "text": {"field": "t"}}},
            {"data": {"values": [{"f": -2.3, "v": 17, "t": "(b)"}]}, "mark": {"type": "text", "align": "left", "baseline": "alphabetic", "fontSize": 25, "color": "#1a1a1a"},
             "encoding": {
               "x": {"field": "f", "type": "quantitative", "scale": {"domain": [-2.5, 22.5], "nice": false, "zero": false}, "axis": null},
               "y": {"field": "v", "type": "quantitative", "scale": {"domain": [-4, 838], "nice": false, "zero": false}, "axis": null},
               "text": {"field": "t"}}}
          ]
        }
      ]
    },
    {
      "spacing": 29,
      "resolve": {"scale": {"x": "independent", "y": "independent", "shape": "independent"}, "legend": {"shape": "independent"}, "axis": {"x": "independent", "y": "independent"}},
      "hconcat": [
        {
          "width": 368, "height": 257,
          "resolve": {"axis": {"x": "independent", "y": "independent"}},
          "layer": [
            {"data": {"name": "L30"}, "mark": {"type": "line", "color": "black", "strokeWidth": 1.8, "clip": true},
             "encoding": {
               "x": {"field": "f", "type": "quantitative", "scale": {"domain": [-2.4, 22.6], "nice": false, "zero": false}, "axis": {"orient": "bottom", "values": [0, 5, 10, 15, 20], "ticks": false, "labelPadding": 9, "title": "Freq (GHz)", "titlePadding": 7}},
               "y": {"field": "v", "type": "quantitative", "scale": {"domain": [-2, 6], "nice": false, "zero": false}, "axis": {"orient": "left", "values": [-2, -1, 0, 1, 2, 3, 4, 5, 6], "ticks": false, "labelPadding": 7, "labelExpr": "datum.value == 0 ? '0' : datum.value + 'n'", "title": "L (H)", "titlePadding": 6}}}},
            {"data": {"name": "L60"}, "mark": {"type": "line", "color": "black", "strokeWidth": 1.8, "clip": true},
             "encoding": {
               "x": {"field": "f", "type": "quantitative", "scale": {"domain": [-2.4, 22.6], "nice": false, "zero": false}, "axis": {"orient": "bottom", "values": [0, 5, 10, 15, 20], "labels": false, "tickSize": -6, "title": null}},
               "y": {"field": "v", "type": "quantitative", "scale": {"domain": [-2, 6], "nice": false, "zero": false}, "axis": {"orient": "left", "values": [-2, -1, 0, 1, 2, 3, 4, 5, 6], "labels": false, "tickSize": -6, "title": null}}}},
            {"data": {"name": "L90"}, "mark": {"type": "line", "color": "black", "strokeWidth": 2, "clip": true},
             "encoding": {
               "x": {"field": "f", "type": "quantitative", "scale": {"domain": [-2.4, 22.6], "nice": false, "zero": false}, "axis": {"orient": "bottom", "values": [2.5, 7.5, 12.5, 17.5], "labels": false, "tickSize": -3.5, "title": null}},
               "y": {"field": "v", "type": "quantitative", "scale": {"domain": [-2, 6], "nice": false, "zero": false}, "axis": {"orient": "left", "values": [-1.8, -1.6, -1.4, -1.2, -0.8, -0.6, -0.4, -0.2, 0.2, 0.4, 0.6, 0.8, 1.2, 1.4, 1.6, 1.8, 2.2, 2.4, 2.6, 2.8, 3.2, 3.4, 3.6, 3.8, 4.2, 4.4, 4.6, 4.8, 5.2, 5.4, 5.6, 5.8], "labels": false, "tickSize": -3.5, "title": null}}}},
            {"data": {"name": "c30"}, "mark": {"type": "point", "filled": false, "color": "#222222", "strokeWidth": 1.2, "size": 70, "opacity": 1},
             "encoding": {
               "x": {"field": "f", "type": "quantitative", "scale": {"domain": [-2.4, 22.6], "nice": false, "zero": false}, "axis": {"orient": "top", "values": [0, 5, 10, 15, 20], "labels": false, "tickSize": -6, "title": null}},
               "y": {"field": "v", "type": "quantitative", "scale": {"domain": [-2, 6], "nice": false, "zero": false}, "axis": {"orient": "right", "values": [-2, -1, 0, 1, 2, 3, 4, 5, 6], "labels": false, "tickSize": -6, "title": null}},
               "shape": {"datum": "Full+2-step de,R30", "type": "nominal", "scale": {"domain": ["Full+2-step de,R30", "Full+2-step de,R60", "Full+2-step de,R90", "Intrinsic"], "range": ["triangle-up", "circle", "square", "M-2.4,0L2.4,0"]},
                         "legend": {"title": null, "orient": "none", "legendX": 21.5, "legendY": 13.5, "rowPadding": 2, "labelOffset": 13.5, "labelFontSize": 19, "symbolSize": 324}}}},
            {"data": {"name": "c60"}, "mark": {"type": "point", "filled": false, "color": "#222222", "strokeWidth": 1.2, "size": 64, "opacity": 1},
             "encoding": {
               "x": {"field": "f", "type": "quantitative", "scale": {"domain": [-2.4, 22.6], "nice": false, "zero": false}, "axis": {"orient": "top", "values": [2.5, 7.5, 12.5, 17.5], "labels": false, "tickSize": -3.5, "title": null}},
               "y": {"field": "v", "type": "quantitative", "scale": {"domain": [-2, 6], "nice": false, "zero": false}, "axis": {"orient": "right", "values": [-1.8, -1.6, -1.4, -1.2, -0.8, -0.6, -0.4, -0.2, 0.2, 0.4, 0.6, 0.8, 1.2, 1.4, 1.6, 1.8, 2.2, 2.4, 2.6, 2.8, 3.2, 3.4, 3.6, 3.8, 4.2, 4.4, 4.6, 4.8, 5.2, 5.4, 5.6, 5.8], "labels": false, "tickSize": -3.5, "title": null}},
               "shape": {"datum": "Full+2-step de,R60", "type": "nominal", "scale": {"domain": ["Full+2-step de,R30", "Full+2-step de,R60", "Full+2-step de,R90", "Intrinsic"], "range": ["triangle-up", "circle", "square", "M-2.4,0L2.4,0"]},
                         "legend": {"title": null, "orient": "none", "legendX": 21.5, "legendY": 13.5, "rowPadding": 2, "labelOffset": 13.5, "labelFontSize": 19, "symbolSize": 324}}}},
            {"data": {"name": "c90"}, "mark": {"type": "point", "filled": false, "color": "#222222", "strokeWidth": 1.2, "size": 60, "opacity": 1},
             "encoding": {
               "x": {"field": "f", "type": "quantitative", "scale": {"domain": [-2.4, 22.6], "nice": false, "zero": false}, "axis": null},
               "y": {"field": "v", "type": "quantitative", "scale": {"domain": [-2, 6], "nice": false, "zero": false}, "axis": null},
               "shape": {"datum": "Full+2-step de,R90", "type": "nominal", "scale": {"domain": ["Full+2-step de,R30", "Full+2-step de,R60", "Full+2-step de,R90", "Intrinsic"], "range": ["triangle-up", "circle", "square", "M-2.4,0L2.4,0"]},
                         "legend": {"title": null, "orient": "none", "legendX": 21.5, "legendY": 13.5, "rowPadding": 2, "labelOffset": 13.5, "labelFontSize": 19, "symbolSize": 324}}}},
            {"data": {"values": [{"f": -1.31, "v": -1.44, "t": "EM simulation"}]}, "mark": {"type": "text", "align": "left", "baseline": "alphabetic", "fontSize": 19.5, "fontWeight": "bold", "color": "black"},
             "encoding": {
               "x": {"field": "f", "type": "quantitative", "scale": {"domain": [-2.4, 22.6], "nice": false, "zero": false}, "axis": null},
               "y": {"field": "v", "type": "quantitative", "scale": {"domain": [-2, 6], "nice": false, "zero": false}, "axis": null},
               "text": {"field": "t"}}},
            {"data": {"values": [{"f": 19.11, "v": -1.73, "t": "(c)"}]}, "mark": {"type": "text", "align": "left", "baseline": "alphabetic", "fontSize": 25, "color": "#1a1a1a"},
             "encoding": {
               "x": {"field": "f", "type": "quantitative", "scale": {"domain": [-2.4, 22.6], "nice": false, "zero": false}, "axis": null},
               "y": {"field": "v", "type": "quantitative", "scale": {"domain": [-2, 6], "nice": false, "zero": false}, "axis": null},
               "text": {"field": "t"}}}
          ]
        },
        {
          "width": 368, "height": 257,
          "resolve": {"axis": {"x": "independent", "y": "independent"}},
          "layer": [
            {"data": {"name": "Z30"}, "mark": {"type": "line", "color": "black", "strokeWidth": 1.8, "clip": true},
             "encoding": {
               "x": {"field": "f", "type": "quantitative", "scale": {"domain": [-2.5, 22.5], "nice": false, "zero": false}, "axis": {"orient": "bottom", "values": [0, 5, 10, 15, 20], "ticks": false, "labelPadding": 9, "title": "Freq (GHz)", "titlePadding": 7}},
               "y": {"field": "v", "type": "quantitative", "scale": {"domain": [-54, 817], "nice": false, "zero": false}, "axis": {"orient": "right", "values": [0, 200, 400, 600, 800], "ticks": false, "labelPadding": 5, "title": "Re(Zᵢₙ) (Ω)", "titleAngle": -90, "titleBaseline": "top", "titlePadding": 8}}}},
            {"data": {"name": "Z60"}, "mark": {"type": "line", "color": "black", "strokeWidth": 1.8, "clip": true},
             "encoding": {
               "x": {"field": "f", "type": "quantitative", "scale": {"domain": [-2.5, 22.5], "nice": false, "zero": false}, "axis": {"orient": "bottom", "values": [0, 5, 10, 15, 20], "labels": false, "tickSize": -6, "title": null}},
               "y": {"field": "v", "type": "quantitative", "scale": {"domain": [-54, 817], "nice": false, "zero": false}, "axis": {"orient": "right", "values": [0, 200, 400, 600, 800], "labels": false, "tickSize": -6, "title": null}}}},
            {"data": {"name": "Z90"}, "mark": {"type": "line", "color": "black", "strokeWidth": 2.2, "clip": true},
             "encoding": {
               "x": {"field": "f", "type": "quantitative", "scale": {"domain": [-2.5, 22.5], "nice": false, "zero": false}, "axis": {"orient": "bottom", "values": [-2, -1, 1, 2, 3, 4, 6, 7, 8, 9, 11, 12, 13, 14, 16, 17, 18, 19, 21, 22], "labels": false, "tickSize": -3.5, "title": null}},
               "y": {"field": "v", "type": "quantitative", "scale": {"domain": [-54, 817], "nice": false, "zero": false}, "axis": {"orient": "right", "values": [-40, 40, 80, 120, 160, 240, 280, 320, 360, 440, 480, 520, 560, 640, 680, 720, 760], "labels": false, "tickSize": -3.5, "title": null}}}},
            {"data": {"name": "d30"}, "mark": {"type": "point", "filled": false, "color": "#222222", "strokeWidth": 1.2, "size": 64, "opacity": 1},
             "encoding": {
               "x": {"field": "f", "type": "quantitative", "scale": {"domain": [-2.5, 22.5], "nice": false, "zero": false}, "axis": {"orient": "top", "values": [0, 5, 10, 15, 20], "labels": false, "tickSize": -6, "title": null}},
               "y": {"field": "v", "type": "quantitative", "scale": {"domain": [-54, 817], "nice": false, "zero": false}, "axis": {"orient": "left", "values": [0, 200, 400, 600, 800], "labels": false, "tickSize": -6, "title": null}},
               "shape": {"datum": "Full+2-step de, R30", "type": "nominal", "scale": {"domain": ["Full+2-step de, R30", "Full+2-step de, R60", "Full+2-step de, R90", "Intrinsic"], "range": ["triangle-up", "circle", "square", "M-2.4,0L2.4,0"]},
                         "legend": {"title": null, "orient": "none", "legendX": 21.5, "legendY": 41, "rowPadding": 2, "labelOffset": 18, "labelFontSize": 19, "symbolSize": 324}}}},
            {"data": {"name": "d60"}, "mark": {"type": "point", "filled": false, "color": "#222222", "strokeWidth": 1.2, "size": 60, "opacity": 1},
             "encoding": {
               "x": {"field": "f", "type": "quantitative", "scale": {"domain": [-2.5, 22.5], "nice": false, "zero": false}, "axis": {"orient": "top", "values": [-2, -1, 1, 2, 3, 4, 6, 7, 8, 9, 11, 12, 13, 14, 16, 17, 18, 19, 21, 22], "labels": false, "tickSize": -3.5, "title": null}},
               "y": {"field": "v", "type": "quantitative", "scale": {"domain": [-54, 817], "nice": false, "zero": false}, "axis": {"orient": "left", "values": [-40, 40, 80, 120, 160, 240, 280, 320, 360, 440, 480, 520, 560, 640, 680, 720, 760], "labels": false, "tickSize": -3.5, "title": null}},
               "shape": {"datum": "Full+2-step de, R60", "type": "nominal", "scale": {"domain": ["Full+2-step de, R30", "Full+2-step de, R60", "Full+2-step de, R90", "Intrinsic"], "range": ["triangle-up", "circle", "square", "M-2.4,0L2.4,0"]},
                         "legend": {"title": null, "orient": "none", "legendX": 21.5, "legendY": 41, "rowPadding": 2, "labelOffset": 18, "labelFontSize": 19, "symbolSize": 324}}}},
            {"data": {"name": "d90"}, "mark": {"type": "point", "filled": false, "color": "#222222", "strokeWidth": 1.2, "size": 60, "opacity": 1},
             "encoding": {
               "x": {"field": "f", "type": "quantitative", "scale": {"domain": [-2.5, 22.5], "nice": false, "zero": false}, "axis": null},
               "y": {"field": "v", "type": "quantitative", "scale": {"domain": [-54, 817], "nice": false, "zero": false}, "axis": null},
               "shape": {"datum": "Full+2-step de, R90", "type": "nominal", "scale": {"domain": ["Full+2-step de, R30", "Full+2-step de, R60", "Full+2-step de, R90", "Intrinsic"], "range": ["triangle-up", "circle", "square", "M-2.4,0L2.4,0"]},
                         "legend": {"title": null, "orient": "none", "legendX": 21.5, "legendY": 41, "rowPadding": 2, "labelOffset": 18, "labelFontSize": 19, "symbolSize": 324}}}},
            {"data": {"values": [{"f": -1.04, "v": 723, "t": "EM simulation"}]}, "mark": {"type": "text", "align": "left", "baseline": "alphabetic", "fontSize": 19.5, "fontWeight": "bold", "color": "black"},
             "encoding": {
               "x": {"field": "f", "type": "quantitative", "scale": {"domain": [-2.5, 22.5], "nice": false, "zero": false}, "axis": null},
               "y": {"field": "v", "type": "quantitative", "scale": {"domain": [-54, 817], "nice": false, "zero": false}, "axis": null},
               "text": {"field": "t"}}},
            {"data": {"values": [{"f": -2.18, "v": -14, "t": "(d)"}]}, "mark": {"type": "text", "align": "left", "baseline": "alphabetic", "fontSize": 25, "color": "#1a1a1a"},
             "encoding": {
               "x": {"field": "f", "type": "quantitative", "scale": {"domain": [-2.5, 22.5], "nice": false, "zero": false}, "axis": null},
               "y": {"field": "v", "type": "quantitative", "scale": {"domain": [-54, 817], "nice": false, "zero": false}, "axis": null},
               "text": {"field": "t"}}}
          ]
        }
      ]
    }
  ]
}
